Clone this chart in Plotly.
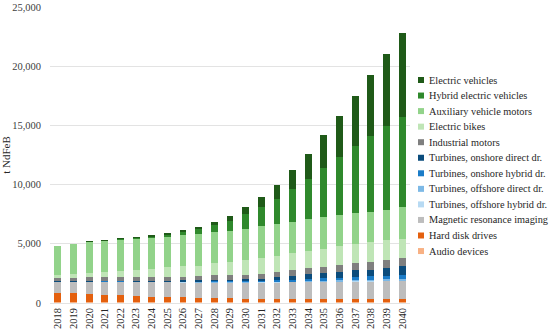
import plotly.graph_objects as go

years = [str(y) for y in range(2018, 2041)]

audio_devices = [90, 90, 90, 90, 90, 85, 85, 85, 85, 85, 85, 80, 80, 80, 80, 80, 80, 80, 80, 80, 80, 80, 80]
hard_disk_drives = [790, 730, 670, 610, 550, 500, 460, 420, 390, 360, 340, 320, 300, 290, 280, 270, 260, 250, 245, 240, 235, 230, 225]
mri = [960, 1020, 1080, 1140, 1190, 1230, 1260, 1270, 1290, 1310, 1330, 1350, 1370, 1390, 1410, 1430, 1450, 1470, 1490, 1510, 1530, 1560, 1590]
offshore_hybrid = [0, 0, 0, 0, 5, 5, 10, 10, 10, 10, 15, 15, 15, 20, 20, 20, 25, 25, 30, 30, 35, 35, 40]
offshore_direct = [5, 5, 5, 5, 10, 10, 10, 15, 15, 20, 20, 25, 25, 30, 35, 40, 45, 50, 60, 65, 75, 85, 100]
onshore_hybrid = [10, 10, 10, 15, 15, 20, 25, 35, 50, 60, 75, 85, 85, 110, 140, 140, 190, 200, 225, 270, 300, 330, 360]
onshore_direct = [15, 15, 15, 20, 25, 30, 40, 55, 70, 85, 100, 110, 115, 140, 220, 300, 360, 420, 500, 560, 570, 650, 700]
industrial_motors = [280, 280, 300, 310, 310, 310, 300, 310, 300, 330, 360, 380, 400, 420, 470, 520, 540, 580, 610, 630, 670, 700, 720]
electric_bikes = [225, 280, 340, 420, 530, 620, 700, 800, 880, 900, 1030, 1070, 1200, 1320, 1350, 1400, 1460, 1510, 1570, 1620, 1630, 1610, 1620]
auxiliary_motors = [2450, 2570, 2650, 2670, 2650, 2620, 2630, 2600, 2680, 2700, 2660, 2680, 2700, 2680, 2660, 2660, 2660, 2670, 2660, 2580, 2540, 2580, 2650]
hybrid_ev = [0, 0, 10, 20, 40, 90, 110, 200, 260, 450, 580, 830, 1200, 1600, 2100, 2750, 3400, 4150, 4900, 5700, 6450, 7100, 7650]
electric_vehicles = [0, 0, 5, 10, 15, 25, 40, 90, 120, 120, 260, 430, 590, 850, 1200, 1600, 2100, 2750, 3450, 4200, 5150, 6100, 7100]

# bottom to top stacking order
series = [
    ("Audio devices", audio_devices, "#f8b184"),
    ("Hard disk drives", hard_disk_drives, "#e4600e"),
    ("Magnetic resonance imaging", mri, "#bdbdbd"),
    ("Turbines, offshore hybrid dr.", offshore_hybrid, "#b7daf3"),
    ("Turbines, offshore direct dr.", offshore_direct, "#7db9e6"),
    ("Turbines, onshore hybrid dr.", onshore_hybrid, "#1b7cc8"),
    ("Turbines, onshore direct dr.", onshore_direct, "#0b4c7c"),
    ("Industrial motors", industrial_motors, "#7f7f7f"),
    ("Electric bikes", electric_bikes, "#bfe5b6"),
    ("Auxiliary vehicle motors", auxiliary_motors, "#92d38a"),
    ("Hybrid electric vehicles", hybrid_ev, "#2f892c"),
    ("Electric vehicles", electric_vehicles, "#1f5a18"),
]

FONT = "Liberation Serif"

fig = go.Figure()
for name, vals, col in series:
    fig.add_trace(go.Bar(x=years, y=vals, name=name, marker=dict(color=col, line=dict(width=0)),
                         showlegend=False))

# custom legend (top to bottom order = reverse of stacking)
shapes = []
annotations = []
x0_px, top_px, step_px = 418, 80, 15.55
plot_l, plot_t, plot_w, plot_h = 50, 7, 360, 296
for i, (name, vals, col) in enumerate(reversed(series)):
    cy = top_px + i * step_px
    yp = 1 - (cy - plot_t) / plot_h
    xs0 = (x0_px - plot_l) / plot_w
    xs1 = (x0_px + 6 - plot_l) / plot_w
    hh = 3 / plot_h
    shapes.append(dict(type="rect", xref="paper", yref="paper", x0=xs0, x1=xs1, y0=yp - hh, y1=yp + hh,
                       fillcolor=col, line=dict(width=0)))
    annotations.append(dict(xref="paper", yref="paper", x=(x0_px + 9 - plot_l) / plot_w, y=yp,
                            xanchor="left", yanchor="middle", text=name, showarrow=False,
                            font=dict(family=FONT, size=10.3, color="#262626")))

fig.update_layout(
    width=550, height=332,
    margin=dict(l=50, r=140, t=7, b=29, autoexpand=False),
    barmode="stack", bargap=0.56,
    plot_bgcolor="white", paper_bgcolor="white",
    font=dict(family=FONT, size=10.5, color="#262626"),
    shapes=shapes, annotations=annotations,
    xaxis=dict(type="category", tickangle=-90, showgrid=False, ticks="", showline=False,
               automargin=False, ticklabelstandoff=2,
               tickfont=dict(family=FONT, size=10.5, color="#262626")),
    yaxis=dict(range=[0, 25000], dtick=5000, tickformat=",", showgrid=True, gridcolor="#e3e3e3",
               gridwidth=1, zeroline=True, zerolinecolor="#e3e3e3", zerolinewidth=1,
               automargin=False, ticklabelstandoff=8,
               tickfont=dict(family=FONT, size=10.5, color="#404040"),
               title=dict(text="t NdFeB", font=dict(family=FONT, size=11, color="#262626"), standoff=0)),
)

fig.write_html("out.html", config={"displayModeBar": False},
               post_script="document.body.style.margin='0';document.body.style.padding='0';document.body.style.overflow='hidden';")
